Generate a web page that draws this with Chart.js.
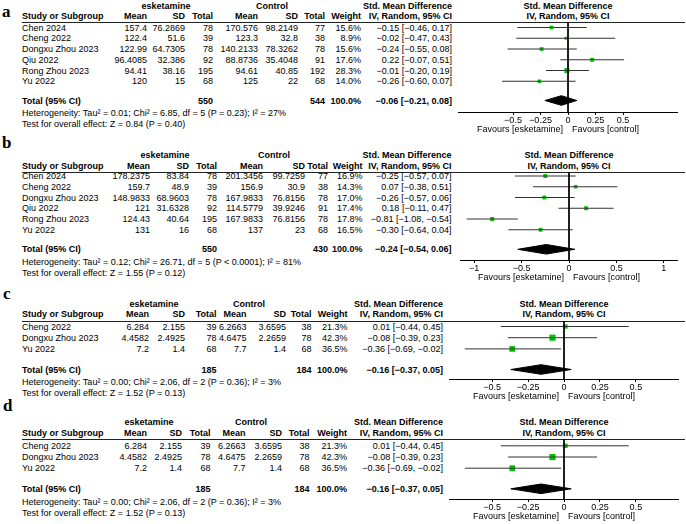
<!DOCTYPE html>
<html>
<head>
<meta charset="utf-8">
<script src="https://cdn.jsdelivr.net/npm/chart.js@4.4.1/dist/chart.umd.min.js"></script>
<style>
  body { margin: 0; width: 686px; height: 524px; background: #fff; position: relative; overflow: hidden;
         font-family: "Liberation Sans", Arial, sans-serif; }
  .t { position: absolute; white-space: nowrap; line-height: 12px; height: 12px; color: #000; }
  .b { font-weight: bold; }
  .lt { position: absolute; font-family: "Liberation Serif", serif; font-weight: bold; font-size: 17px; line-height: 17px; }
  .hl { position: absolute; height: 0; border-top: 1px solid #222; }
  canvas { position: absolute; }
</style>
</head>
<body>
<script>
// ---- panel a ----
const aStudies = ['Chen 2024', 'Cheng 2022', 'Dongxu Zhou 2023', 'Qiu 2022', 'Rong Zhou 2023', 'Yu 2022'];
const aEskMean = [157.4, 122.4, 122.99, 96.4085, 94.41, 120];
const aEskSD = [76.2869, 51.6, 64.7305, 32.386, 38.16, 15];
const aEskN = [78, 39, 78, 92, 195, 68];
const aCtlMean = [170.576, 123.3, 140.2133, 88.8736, 94.61, 125];
const aCtlSD = [98.2149, 32.8, 78.3262, 35.4048, 40.85, 22];
const aCtlN = [77, 38, 78, 91, 192, 68];
const aWeight = [15.6, 8.9, 15.6, 17.6, 28.3, 14.0];
const aSmd = [-0.15, -0.02, -0.24, 0.22, -0.01, -0.26];
const aLo = [-0.46, -0.47, -0.55, -0.07, -0.20, -0.60];
const aHi = [0.17, 0.43, 0.08, 0.51, 0.19, 0.07];
const aTotals = [550, 544];
const aPooled = [-0.06, -0.21, 0.08];
const aHet = 'Heterogeneity: Tau² = 0.01; Chi² = 6.85, df = 5 (P = 0.23); I² = 27%';
const aTest = 'Test for overall effect: Z = 0.84 (P = 0.40)';
const aTicks = [-0.5, -0.25, 0, 0.25, 0.5];

// ---- panel b ----
const bStudies = ['Chen 2024', 'Cheng 2022', 'Dongxu Zhou 2023', 'Qiu 2022', 'Rong Zhou 2023', 'Yu 2022'];
const bEskMean = [178.2375, 159.7, 148.9833, 121, 124.43, 131];
const bEskSD = [83.84, 48.9, 68.9603, 31.6328, 40.64, 16];
const bEskN = [78, 39, 78, 92, 195, 68];
const bCtlMean = [201.3456, 156.9, 167.9833, 114.5779, 167.9833, 137];
const bCtlSD = [99.7259, 30.9, 76.8156, 39.9246, 76.8156, 23];
const bCtlN = [77, 38, 78, 91, 78, 68];
const bWeight = [16.9, 14.3, 17.0, 17.4, 17.8, 16.5];
const bSmd = [-0.25, 0.07, -0.26, 0.18, -0.81, -0.30];
const bLo = [-0.57, -0.38, -0.57, -0.11, -1.08, -0.64];
const bHi = [0.07, 0.51, 0.06, 0.47, -0.54, 0.04];
const bTotals = [550, 430];
const bPooled = [-0.24, -0.54, 0.06];
const bHet = 'Heterogeneity: Tau² = 0.12; Chi² = 26.71, df = 5 (P < 0.0001); I² = 81%';
const bTest = 'Test for overall effect: Z = 1.55 (P = 0.12)';
const bTicks = [-1, -0.5, 0, 0.5, 1];

// ---- panels c and d (same figures) ----
const cdStudies = ['Cheng 2022', 'Dongxu Zhou 2023', 'Yu 2022'];
const cdEskMean = [6.284, 4.4582, 7.2];
const cdEskSD = [2.155, 2.4925, 1.4];
const cdEskN = [39, 78, 68];
const cdCtlMean = [6.2663, 4.6475, 7.7];
const cdCtlSD = [3.6595, 2.2659, 1.4];
const cdCtlN = [38, 78, 68];
const cdWeight = [21.3, 42.3, 36.5];
const cdSmd = [0.01, -0.08, -0.36];
const cdLo = [-0.44, -0.39, -0.69];
const cdHi = [0.45, 0.23, -0.02];
const cdTotals = [185, 184];
const cdPooled = [-0.16, -0.37, 0.05];
const cdHet = 'Heterogeneity: Tau² = 0.00; Chi² = 2.06, df = 2 (P = 0.36); I² = 3%';
const cdTest = 'Test for overall effect: Z = 1.52 (P = 0.13)';
const cdTicks = [-0.5, -0.25, 0, 0.25, 0.5];

const FONT = 'Liberation Sans';
Chart.defaults.font.family = FONT;

const panels = [
  { letter: 'a', studies: aStudies, eMean: aEskMean, eSD: aEskSD, eN: aEskN, cMean: aCtlMean, cSD: aCtlSD, cN: aCtlN,
    weight: aWeight, smd: aSmd, lo: aLo, hi: aHi, totals: aTotals, pooled: aPooled, het: aHet, test: aTest, ticks: aTicks,
    L: { lx: 2, lb: 17, h1: 5.5, h2: 16, line: 21.5, row0: 27.5, step: 10.75, total: 100.5, het: 113, test: 124,
         cols: [147, 185, 213, 258, 298, 325, 361, 452], eskC: 166, ctlC: 272,
         pl: 458, pw: 220, min: -1, max: 1, axis: 111, fs: 9 } },
  { letter: 'b', studies: bStudies, eMean: bEskMean, eSD: bEskSD, eN: bEskN, cMean: bCtlMean, cSD: bCtlSD, cN: bCtlN,
    weight: bWeight, smd: bSmd, lo: bLo, hi: bHi, totals: bTotals, pooled: bPooled, het: bHet, test: bTest, ticks: bTicks,
    L: { lx: 2, lb: 148, h1: 155, h2: 165.5, line: 171.7, row0: 176, step: 10.75, total: 249.3, het: 262, test: 272.7,
         cols: [150, 189, 217, 263, 305, 328, 362.5, 451.5], eskC: 165, ctlC: 274,
         pl: 460, pw: 218, min: -1.15, max: 1.15, axis: 259.3, fs: 9 } },
  { letter: 'c', studies: cdStudies, eMean: cdEskMean, eSD: cdEskSD, eN: cdEskN, cMean: cdCtlMean, cSD: cdCtlSD, cN: cdCtlN,
    weight: cdWeight, smd: cdSmd, lo: cdLo, hi: cdHi, totals: cdTotals, pooled: cdPooled, het: cdHet, test: cdTest, ticks: cdTicks,
    L: { lx: 3, lb: 299, h1: 304, h2: 314.3, line: 320.7, row0: 326.5, step: 11.2, total: 369.5, het: 381.7, test: 393.3,
         cols: [149, 185, 216.5, 246.5, 286, 311.5, 347.5, 443], eskC: 154, ctlC: 249,
         pl: 449, pw: 230, min: -0.8, max: 0.8, axis: 379, fs: 9 } },
  { letter: 'd', studies: cdStudies, eMean: cdEskMean, eSD: cdEskSD, eN: cdEskN, cMean: cdCtlMean, cSD: cdCtlSD, cN: cdCtlN,
    weight: cdWeight, smd: cdSmd, lo: cdLo, hi: cdHi, totals: cdTotals, pooled: cdPooled, het: cdHet, test: cdTest, ticks: cdTicks,
    L: { lx: 3, lb: 410.5, h1: 422, h2: 432.5, line: 439, row0: 445.8, step: 11.2, total: 488.8, het: 501.5, test: 513.3,
         cols: [147, 182, 210.5, 245.5, 282, 309.5, 347, 443], eskC: 149, ctlC: 251,
         pl: 449, pw: 230, min: -0.8, max: 0.8, axis: 499, fs: 9 } }
];

const minus = s => s.replace(/-/g, '\u2212');
const f2 = v => minus(v.toFixed(2));
const ci = (e, l, h) => f2(e) + ' [' + f2(l) + ', ' + f2(h) + ']';

function txt(s, x, y, align, bold, size) {
  const e = document.createElement('div');
  e.className = 't' + (bold ? ' b' : '');
  e.textContent = s;
  e.style.left = x + 'px';
  e.style.top = (y - 6) + 'px';
  e.style.fontSize = size + 'px';
  if (align === 'r') e.style.transform = 'translateX(-100%)';
  if (align === 'c') e.style.transform = 'translateX(-50%)';
  document.body.appendChild(e);
}

function drawTable(p) {
  const L = p.L, fs = L.fs, c = L.cols;
  const lt = document.createElement('div');
  lt.className = 'lt';
  lt.textContent = p.letter;
  lt.style.left = L.lx + 'px';
  lt.style.top = (L.lb - 14) + 'px';
  document.body.appendChild(lt);

  txt('esketamine', L.eskC, L.h1, 'c', true, fs);
  txt('Control', L.ctlC, L.h1, 'c', true, fs);
  txt('Std. Mean Difference', c[7], L.h1, 'r', true, fs);
  txt('Std. Mean Difference', L.pl + L.pw / 2, L.h1, 'c', true, fs);
  txt('Study or Subgroup', 22, L.h2, 'l', true, fs);
  ['Mean', 'SD', 'Total', 'Mean', 'SD', 'Total', 'Weight', 'IV, Random, 95% CI'].forEach((h, i) => txt(h, c[i], L.h2, 'r', true, fs));
  txt('IV, Random, 95% CI', L.pl + L.pw / 2, L.h2, 'c', true, fs);

  const hl = document.createElement('div');
  hl.className = 'hl';
  hl.style.left = '22px';
  hl.style.width = '663px';
  hl.style.top = Math.round(L.line) + 'px';
  document.body.appendChild(hl);

  p.studies.forEach((s, i) => {
    const y = L.row0 + i * L.step;
    txt(s, 22, y, 'l', false, fs);
    const cells = [String(p.eMean[i]), String(p.eSD[i]), String(p.eN[i]), String(p.cMean[i]), String(p.cSD[i]), String(p.cN[i]),
                   p.weight[i].toFixed(1) + '%', ci(p.smd[i], p.lo[i], p.hi[i])];
    cells.forEach((v, k) => txt(v, c[k], y, 'r', false, fs));
  });

  txt('Total (95% CI)', 22, L.total, 'l', true, fs);
  txt(String(p.totals[0]), c[2], L.total, 'r', true, fs);
  txt(String(p.totals[1]), c[5], L.total, 'r', true, fs);
  txt('100.0%', c[6], L.total, 'r', true, fs);
  txt(ci(p.pooled[0], p.pooled[1], p.pooled[2]), c[7], L.total, 'r', true, fs);
  txt(p.het, 22, L.het, 'l', false, fs);
  txt(p.test, 22, L.test, 'l', false, fs);
}

const favours = {
  id: 'favours',
  afterDraw(ch) {
    const ctx = ch.ctx, x0 = ch.scales.x.getPixelForValue(0), y = ch.chartArea.bottom + 17.5;
    ctx.save();
    ctx.font = ch.options.plugins.favours.size + 'px "' + FONT + '"';
    ctx.fillStyle = '#000';
    ctx.textBaseline = 'middle';
    ctx.textAlign = 'right';
    ctx.fillText('Favours [esketamine]', x0 - 5, y);
    ctx.textAlign = 'left';
    ctx.fillText('Favours [control]', x0 + 4, y);
    ctx.restore();
  }
};

function drawPlot(p) {
  const L = p.L;
  const cv = document.createElement('canvas');
  const h = Math.round(L.axis - L.line) + 26;
  cv.width = L.pw;
  cv.height = h;
  cv.style.left = L.pl + 'px';
  cv.style.top = Math.round(L.line) + 'px';
  document.body.appendChild(cv);

  const yOf = py => (py - L.row0) / L.step;
  const yTop = yOf(Math.round(L.line));
  const yBot = yOf(Math.round(L.line) + Math.round(L.axis - L.line));
  const datasets = [];

  datasets.push({ type: 'line', data: [{ x: 0, y: yTop }, { x: 0, y: yBot }], borderColor: '#000', borderWidth: 1, pointRadius: 0 });
  p.lo.forEach((lo, i) => {
    datasets.push({ type: 'line', data: [{ x: lo, y: i }, { x: p.hi[i], y: i }], borderColor: '#333', borderWidth: 1, pointRadius: 0 });
  });
  datasets.push({
    type: 'scatter',
    data: p.smd.map((v, i) => ({ x: v, y: i })),
    pointStyle: 'rect',
    pointRadius: p.weight.map(w => 0.95 * Math.sqrt(w) / Math.SQRT2),
    pointBorderWidth: 0,
    backgroundColor: '#00c400',
    borderColor: '#00c400'
  });
  const yd = yOf(L.total), hh = 4.8 / L.step, pe = p.pooled;
  datasets.push({
    type: 'line',
    data: [{ x: pe[1], y: yd }, { x: pe[0], y: yd - hh }, { x: pe[2], y: yd }, { x: pe[0], y: yd + hh }, { x: pe[1], y: yd }],
    borderColor: '#000', borderWidth: 1, backgroundColor: '#000', fill: 'shape', pointRadius: 0, tension: 0
  });

  new Chart(cv, {
    type: 'scatter',
    data: { datasets },
    options: {
      responsive: false,
      animation: false,
      events: [],
      layout: { padding: 0, autoPadding: false },
      plugins: { legend: { display: false }, tooltip: { enabled: false }, favours: { size: L.fs } },
      scales: {
        x: {
          type: 'linear', min: L.min, max: L.max,
          afterBuildTicks: s => { s.ticks = p.ticks.map(v => ({ value: v })); },
          afterFit: s => { s.height = 26; },
          ticks: { callback: v => minus(String(v)), color: '#000', font: { size: L.fs }, padding: 0, maxRotation: 0, autoSkip: false },
          grid: { drawOnChartArea: false, tickLength: 3, color: '#000' },
          border: { color: '#000', width: 1 }
        },
        y: { type: 'linear', display: false, reverse: true, min: yTop, max: yBot }
      }
    },
    plugins: [favours]
  });
}

panels.forEach(p => { drawTable(p); drawPlot(p); });
</script>
</body>
</html>
